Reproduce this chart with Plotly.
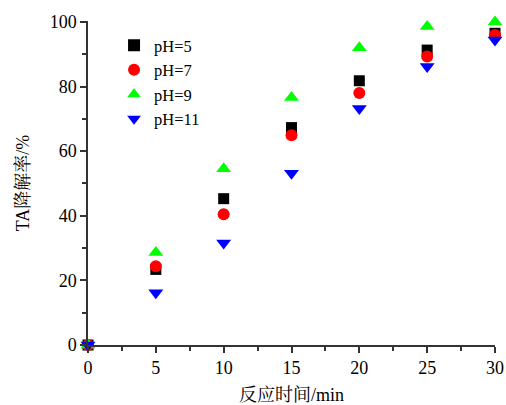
import plotly.graph_objects as go

time_min = [0, 5, 10, 15, 20, 25, 30]
ph5 = [0, 23.4, 45.3, 67.3, 81.8, 91.3, 96.5]
ph7 = [0, 24.4, 40.5, 64.9, 78.0, 89.3, 96.0]
ph9 = [0, 28.6, 54.6, 76.6, 92.0, 98.6, 100.0]
ph11 = [0, 16.2, 31.6, 53.2, 73.2, 86.2, 94.4]

series = [
    ("pH=5", ph5, "square", "black", 11),
    ("pH=7", ph7, "circle", "red", 12),
    ("pH=9", ph9, "triangle-up", "#00ff00", 13),
    ("pH=11", ph11, "triangle-down", "blue", 13),
]

font_fam = "Liberation Serif, Times New Roman, Noto Serif CJK SC, Noto Sans CJK SC, serif"

fig = go.Figure()
for name, ys, sym, col, sz in series:
    fig.add_trace(go.Scatter(
        x=time_min, y=ys, mode="markers", name=name,
        marker=dict(symbol=sym, color=col, size=sz, line=dict(width=0)),
        cliponaxis=False,
    ))

axis_common = dict(
    showgrid=False, zeroline=False, showline=True, linecolor="#333333", linewidth=1.5,
    ticks="outside", ticklen=6, tickwidth=1.5, tickcolor="#333333",
    tickfont=dict(family=font_fam, size=18, color="black"),
    minor=dict(ticks="outside", ticklen=4, tickwidth=1.5, tickcolor="#333333"),
    automargin=False,
)

fig.update_xaxes(
    range=[0, 30], tickvals=[0, 5, 10, 15, 20, 25, 30], minor_dtick=2.5,
    title=dict(text="反应时间/min", font=dict(family=font_fam, size=18, color="black")),
    **axis_common,
)
fig.update_yaxes(
    range=[0, 100.3], tickvals=[0, 20, 40, 60, 80, 100], minor_dtick=10,
    title=dict(text="TA降解率/%", font=dict(family=font_fam, size=18, color="black")),
    **axis_common,
)

fig.update_layout(
    width=506, height=405,
    margin=dict(l=88, r=11, t=21, b=60),
    plot_bgcolor="white", paper_bgcolor="white",
    showlegend=True,
    legend=dict(x=0.064, y=0.978, xanchor="left", yanchor="top",
                bgcolor="rgba(0,0,0,0)",
                font=dict(family=font_fam, size=16.5, color="black"),
                itemsizing="constant", tracegroupgap=0),
)

fig.write_html("out.html")
